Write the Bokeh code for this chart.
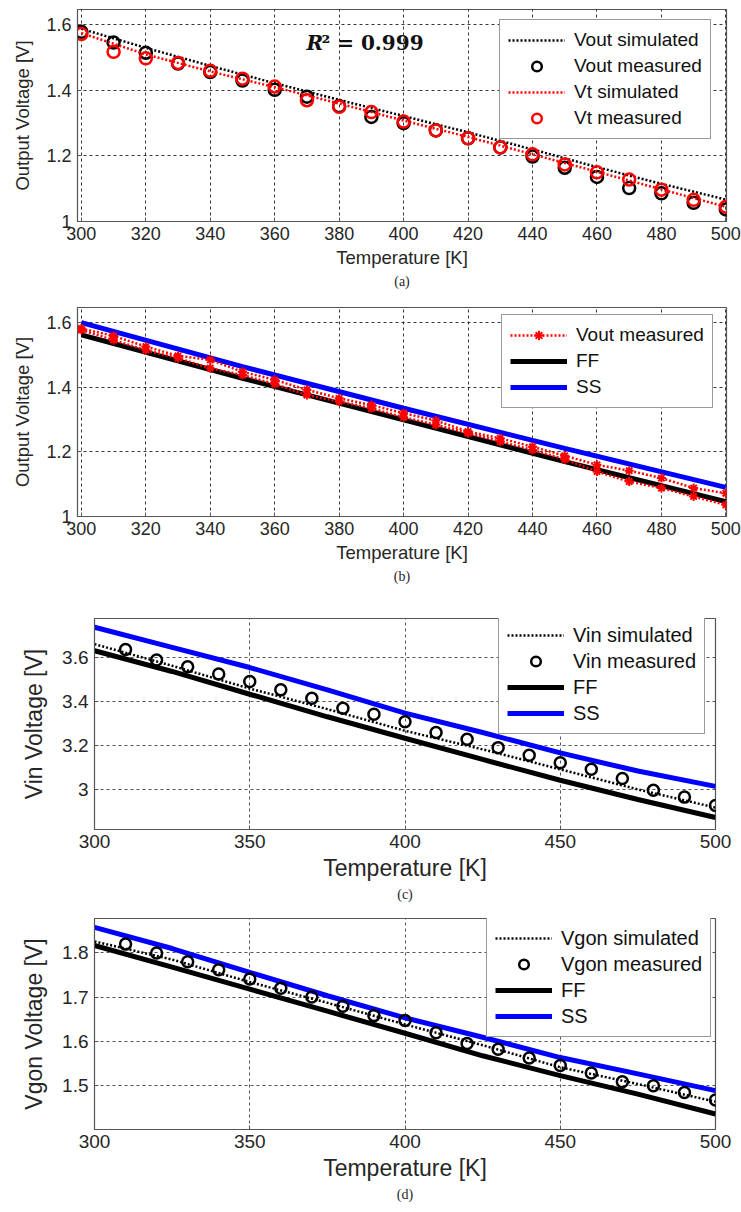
from bokeh.plotting import figure
from bokeh.models import FixedTicker, Legend, LegendItem, Label, Title, Range1d
from bokeh.embed import file_html
from bokeh.resources import INLINE

# ---------------- data ----------------
# panel (a)
temp_meas = [300, 310, 320, 330, 340, 350, 360, 370, 380, 390, 400,
             410, 420, 430, 440, 450, 460, 470, 480, 490, 500]
vout_meas_a = [1.579, 1.546, 1.515, 1.482, 1.456, 1.430, 1.402, 1.381, 1.352, 1.319, 1.300,
               1.278, 1.254, 1.226, 1.198, 1.164, 1.136, 1.102, 1.086, 1.057, 1.037]
vt_meas_a = [1.572, 1.518, 1.498, 1.484, 1.460, 1.436, 1.412, 1.370, 1.350, 1.334, 1.305,
             1.278, 1.254, 1.226, 1.205, 1.174, 1.150, 1.128, 1.097, 1.066, 1.045]
temp_sim_a = [300, 320, 340, 360, 380, 400, 420, 440, 460, 480, 500]
vout_sim_a = [1.588, 1.530, 1.475, 1.422, 1.371, 1.322, 1.272, 1.220, 1.166, 1.115, 1.067]
vt_sim_a = [1.575, 1.510, 1.458, 1.410, 1.360, 1.308, 1.258, 1.205, 1.152, 1.098, 1.045]

# panel (b)
vout_meas_b1 = [1.582, 1.559, 1.526, 1.497, 1.485, 1.448, 1.423, 1.392, 1.366, 1.345, 1.320,
                1.297, 1.263, 1.242, 1.216, 1.188, 1.160, 1.142, 1.119, 1.088, 1.072]
vout_meas_b2 = [1.577, 1.546, 1.515, 1.490, 1.459, 1.438, 1.410, 1.376, 1.356, 1.335, 1.307,
                1.284, 1.258, 1.232, 1.206, 1.177, 1.139, 1.108, 1.088, 1.062, 1.036]
temp_corner_b = [300, 350, 400, 450, 500]
ff_b = [1.562, 1.428, 1.299, 1.170, 1.046]
ss_b = [1.600, 1.464, 1.335, 1.211, 1.090]

# panel (c)
temp_meas_cd = [310, 320, 330, 340, 350, 360, 370, 380, 390, 400,
                410, 420, 430, 440, 450, 460, 470, 480, 490, 500]
vin_meas = [3.637, 3.589, 3.559, 3.525, 3.491, 3.453, 3.415, 3.369, 3.342, 3.307,
            3.258, 3.227, 3.189, 3.154, 3.120, 3.090, 3.048, 2.994, 2.963, 2.925]
temp_sim_cd = [300, 325, 350, 375, 400, 425, 450, 475, 500]
vin_sim = [3.662, 3.563, 3.459, 3.365, 3.266, 3.181, 3.090, 2.998, 2.915]
vin_ff = [3.632, 3.537, 3.433, 3.330, 3.232, 3.135, 3.040, 2.952, 2.870]
vin_ss = [3.739, 3.647, 3.555, 3.453, 3.347, 3.258, 3.165, 3.082, 3.012]

# panel (d)
vgon_meas = [1.820, 1.800, 1.780, 1.762, 1.741, 1.720, 1.700, 1.679, 1.658, 1.647,
             1.619, 1.595, 1.582, 1.562, 1.545, 1.528, 1.508, 1.499, 1.484, 1.467]
vgon_sim = [1.826, 1.785, 1.734, 1.687, 1.638, 1.591, 1.541, 1.503, 1.463]
vgon_ff = [1.817, 1.768, 1.718, 1.668, 1.618, 1.567, 1.522, 1.480, 1.435]
vgon_ss = [1.858, 1.810, 1.756, 1.703, 1.653, 1.609, 1.563, 1.526, 1.488]

# ticks
xticks_ab = [300, 320, 340, 360, 380, 400, 420, 440, 460, 480, 500]
xticks_cd = [300, 350, 400, 450, 500]
yticks_ab = [1.0, 1.2, 1.4, 1.6]
yticks_ab_labels = ["1", "1.2", "1.4", "1.6"]
yticks_c = [3.0, 3.2, 3.4, 3.6]
yticks_c_labels = ["3", "3.2", "3.4", "3.6"]
yticks_d = [1.5, 1.6, 1.7, 1.8]
yticks_d_labels = ["1.5", "1.6", "1.7", "1.8"]

FONT = "Liberation Sans"
TXT = "#262626"
BLUE = "#0000ff"
RED = "#ff0000"


def make_fig(height, top, bottom, left, right, xr, yr, xticks, yticks, ylabels,
             ylabel, tick_fs, label_fs, caption, ylab_standoff, grid_color):
    p = figure(width=741, height=height, output_backend="svg", toolbar_location=None,
               x_range=Range1d(*xr), y_range=Range1d(*yr),
               min_border_top=top, min_border_bottom=bottom,
               min_border_left=left, min_border_right=right,
               background_fill_color="white", border_fill_color="white")
    p.outline_line_color = "#555555"
    p.outline_line_width = 1.2
    for ax in (p.xaxis, p.yaxis):
        ax.major_tick_out = 0
        ax.major_tick_in = 4
        ax.minor_tick_in = 0
        ax.minor_tick_out = 0
        ax.axis_line_color = "#555555"
        ax.major_tick_line_color = "#555555"
        ax.major_label_text_font = FONT
        ax.major_label_text_font_size = tick_fs
        ax.major_label_text_color = TXT
        ax.axis_label_text_font = FONT
        ax.axis_label_text_font_size = label_fs
        ax.axis_label_text_font_style = "normal"
        ax.axis_label_text_color = TXT
    p.xaxis.ticker = FixedTicker(ticks=xticks)
    p.yaxis.ticker = FixedTicker(ticks=yticks)
    p.yaxis.major_label_overrides = {t: l for t, l in zip(yticks, ylabels)}
    p.xaxis.axis_label = "Temperature [K]"
    p.yaxis.axis_label = ylabel
    p.xaxis.major_label_standoff = 5
    p.yaxis.major_label_standoff = 6
    p.xaxis.axis_label_standoff = 4
    p.yaxis.axis_label_standoff = ylab_standoff
    p.grid.grid_line_color = grid_color
    p.grid.grid_line_dash = "3 3"
    p.grid.grid_line_width = 1
    p.grid.grid_line_alpha = 0.9
    cap = Title(text=caption, align="center", text_font="Liberation Serif",
                text_font_size="14px", text_font_style="normal", text_color=TXT,
                standoff=2)
    p.add_layout(cap, "below")
    return p


def make_legend(items, loc, fs):
    lg = Legend(items=items, location=loc, margin=0, padding=8, spacing=2,
                glyph_width=57, glyph_height=24, label_height=24, label_standoff=9,
                label_text_font=FONT, label_text_font_size=fs, label_text_color="#111111",
                border_line_color="#333333", border_line_width=1,
                background_fill_color="white", background_fill_alpha=1.0)
    return lg


# ---------------- panel (a) ----------------
pa = make_fig(295, 9, 74, 77, 15, (298.8, 500.2), (1.0, 1.647), xticks_ab, yticks_ab,
              yticks_ab_labels, "Output Voltage [V]", "18px", "18.5px", "(a)", 10, "#222222")
ra1 = pa.line(temp_sim_a, vout_sim_a, line_color="black", line_width=2.5, line_dash="2 2")
ra2 = pa.scatter(temp_meas, vout_meas_a, marker="circle", size=12, fill_color=None,
                 line_color="black", line_width=2.5)
ra3 = pa.line(temp_sim_a, vt_sim_a, line_color=RED, line_width=2.5, line_dash="2 2")
ra4 = pa.scatter(temp_meas, vt_meas_a, marker="circle", size=12, fill_color=None,
                 line_color=RED, line_width=2.5)
pa.add_layout(make_legend([LegendItem(label="Vout simulated", renderers=[ra1]),
                           LegendItem(label="Vout measured", renderers=[ra2]),
                           LegendItem(label="Vt simulated", renderers=[ra3]),
                           LegendItem(label="Vt measured", renderers=[ra4])],
                          (422, 82), "19px"))
pa.add_layout(Label(x=229, y=179, x_units="screen", y_units="screen", text="R",
                    text_font="DejaVu Serif", text_font_style="bold italic",
                    text_font_size="20px", text_baseline="middle", text_color="#111111"))
pa.add_layout(Label(x=244, y=179, x_units="screen", y_units="screen", text="² = 0.999",
                    text_font="DejaVu Serif", text_font_style="bold",
                    text_font_size="20px", text_baseline="middle", text_color="#111111"))

# ---------------- panel (b) ----------------
pb = make_fig(300, 12, 79, 77, 15, (298.8, 500.2), (1.0, 1.647), xticks_ab, yticks_ab,
              yticks_ab_labels, "Output Voltage [V]", "18px", "18.5px", "(b)", 10, "#222222")
rb_ff = pb.line(temp_corner_b, ff_b, line_color="black", line_width=5)
rb_ss = pb.line(temp_corner_b, ss_b, line_color=BLUE, line_width=5)
rb1 = pb.line(temp_meas, vout_meas_b1, line_color=RED, line_width=2.5, line_dash="2 2")
rb1m = pb.scatter(temp_meas, vout_meas_b1, marker="asterisk", size=9, line_color=RED,
                  line_width=2)
rb2 = pb.line(temp_meas, vout_meas_b2, line_color=RED, line_width=2.5, line_dash="2 2")
rb2m = pb.scatter(temp_meas, vout_meas_b2, marker="asterisk", size=9, line_color=RED,
                  line_width=2)
pb.add_layout(make_legend([LegendItem(label="Vout measured", renderers=[rb1, rb1m]),
                           LegendItem(label="FF", renderers=[rb_ff]),
                           LegendItem(label="SS", renderers=[rb_ss])],
                          (424, 108), "19px"))

# ---------------- panel (c) ----------------
pc = make_fig(310, 23, 76, 94, 26, (300, 500), (2.815, 3.779), xticks_cd, yticks_c,
              yticks_c_labels, "Vin Voltage [V]", "19px", "23px", "(c)", 12, "#444444")
rc_ff = pc.line(temp_sim_cd, vin_ff, line_color="black", line_width=5)
rc_ss = pc.line(temp_sim_cd, vin_ss, line_color=BLUE, line_width=5)
rc_sim = pc.line(temp_sim_cd, vin_sim, line_color="black", line_width=2.5, line_dash="2 2")
rc_meas = pc.scatter(temp_meas_cd, vin_meas, marker="circle", size=11, fill_color=None,
                     line_color="black", line_width=2.5)
pc.add_layout(make_legend([LegendItem(label="Vin simulated", renderers=[rc_sim]),
                           LegendItem(label="Vin measured", renderers=[rc_meas]),
                           LegendItem(label="FF", renderers=[rc_ff]),
                           LegendItem(label="SS", renderers=[rc_ss])],
                          (404, 95), "20px"))

# ---------------- panel (d) ----------------
pd_ = make_fig(307, 13, 83, 94, 26, (300, 500), (1.40, 1.878), xticks_cd, yticks_d,
               yticks_d_labels, "Vgon Voltage [V]", "19px", "23px", "(d)", 12, "#444444")
rd_ff = pd_.line(temp_sim_cd, vgon_ff, line_color="black", line_width=5)
rd_ss = pd_.line(temp_sim_cd, vgon_ss, line_color=BLUE, line_width=5)
rd_sim = pd_.line(temp_sim_cd, vgon_sim, line_color="black", line_width=2.5, line_dash="2 2")
rd_meas = pd_.scatter(temp_meas_cd, vgon_meas, marker="circle", size=11, fill_color=None,
                      line_color="black", line_width=2.5)
pd_.add_layout(make_legend([LegendItem(label="Vgon simulated", renderers=[rd_sim]),
                            LegendItem(label="Vgon measured", renderers=[rd_meas]),
                            LegendItem(label="FF", renderers=[rd_ff]),
                            LegendItem(label="SS", renderers=[rd_ss])],
                           (392, 92), "20px"))

# separate roots, stacked vertically (keeps each panel's own frame geometry)
open("out.html", "w").write(file_html([pa, pb, pc, pd_], INLINE))
